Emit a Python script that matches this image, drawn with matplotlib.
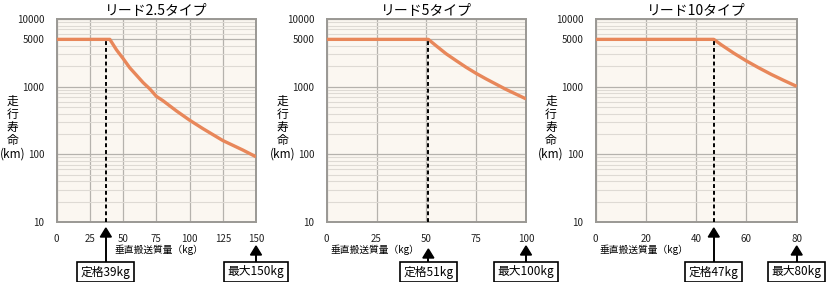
import matplotlib
matplotlib.use("Agg")
import matplotlib.pyplot as plt
from matplotlib.ticker import FixedLocator, LogLocator, NullFormatter

plt.rcParams['font.family'] = ['Noto Sans CJK JP', 'DejaVu Sans']

# --- data ---
titles = ["リード2.5タイプ", "リード5タイプ", "リード10タイプ"]
x_max = [150, 100, 80]
x_ticks = [[0, 25, 50, 75, 100, 125, 150],
           [0, 25, 50, 75, 100],
           [0, 20, 40, 60, 80]]

load_25 = [0, 40, 45, 50, 55, 60, 65, 70, 75, 80, 90, 100, 110, 125, 140, 150]
life_25 = [5000, 5000, 3500, 2600, 1900, 1480, 1150, 930, 720, 620, 440, 320, 240, 160, 116, 92]
load_5 = [0, 51, 55, 60, 65, 70, 75, 80, 90, 100]
life_5 = [5000, 5000, 4000, 3050, 2420, 1930, 1570, 1300, 910, 660]
load_10 = [0, 47, 50, 55, 60, 65, 70, 75, 80]
life_10 = [5000, 5000, 4150, 3120, 2400, 1890, 1510, 1230, 1010]

rated_x = [37, 51, 47]          # dashed line / arrow position
rated_labels = ["定格39kg", "定格51kg", "定格47kg"]
max_labels = ["最大150kg", "最大100kg", "最大80kg"]

y_ticks = [10, 100, 1000, 5000, 10000]
y_ticklabels = ["10", "100", "1000", "5000", "10000"]

loads = [load_25, load_5, load_10]
lives = [life_25, life_5, life_10]

# --- layout ---
W, H = 831, 282
fig = plt.figure(figsize=(W / 100, H / 100), dpi=100)
lefts = [56.7, 326.7, 595.7]
widths = [199.3, 199.3, 201.0]
top_px, bot_px = 19, 222
xlabel_pos = [0.513, 0.242, 0.24]
# arrow head tip (pixels from top): lower where a tick label sits above it
rated_tip = [228, 249, 228]
max_tip = [246, 246, 246]

line_color = "#E8875A"
bg_color = "#FBF7F1"


def arrow_box(xf, tip_px, label):
    box_top = 263
    fig.add_artist(plt.Line2D([xf, xf], [(H - box_top) / H, (H - tip_px - 8) / H],
                              color="black", lw=1.4, transform=fig.transFigure))
    fig.add_artist(plt.Polygon([[xf - 5.5 / W, (H - tip_px - 9) / H],
                                [xf + 5.5 / W, (H - tip_px - 9) / H],
                                [xf, (H - tip_px) / H]],
                               closed=True, color="black", transform=fig.transFigure))
    fig.text(xf, (H - 272) / H, label, ha="center", va="center", fontsize=8.5,
             bbox=dict(boxstyle="square,pad=0.3", fc="white", ec="black", lw=1.2))


for i in range(3):
    ax = fig.add_axes([lefts[i] / W, (H - bot_px) / H, widths[i] / W, (bot_px - top_px) / H])
    ax.set_facecolor(bg_color)
    ax.set_yscale("log")
    ax.set_xlim(0, x_max[i])
    ax.set_ylim(10, 10000)

    # grid
    ax.yaxis.set_minor_locator(LogLocator(base=10, subs=range(2, 10)))
    ax.yaxis.set_minor_formatter(NullFormatter())
    ax.grid(which="minor", axis="y", color="#dedad4", lw=0.8)
    ax.grid(which="major", axis="y", color="#b5b2ad", lw=0.9)
    ax.grid(which="major", axis="x", color="#b5b2ad", lw=0.9)
    ax.set_axisbelow(True)

    ax.yaxis.set_major_locator(FixedLocator(y_ticks))
    ax.set_yticklabels(y_ticklabels)
    ax.set_xticks(x_ticks[i])
    ax.tick_params(which="both", length=0, labelsize=7, colors="#222222")
    ax.tick_params(axis="y", pad=9)
    ax.tick_params(axis="x", pad=9)
    for s in ax.spines.values():
        s.set_color("#9a9894")
        s.set_linewidth(1.4)

    ax.plot(loads[i], lives[i], color=line_color, lw=2.4, solid_capstyle="butt", zorder=3)
    ax.plot([rated_x[i], rated_x[i]], [10, 5000], color="black", lw=1.4,
            ls=(0, (2, 1.5)), zorder=4)

    ax.set_title(titles[i], fontsize=10, pad=3)
    ax.text(xlabel_pos[i], -0.138, "垂直搬送質量（kg）", transform=ax.transAxes,
            ha="center", va="center", fontsize=7)
    ax.text(-0.222, 0.465, "走\n行\n寿\n命\n(km)", transform=ax.transAxes,
            ha="center", va="center", fontsize=8.5, linespacing=1.0)

    # arrows with boxes under the axis
    fig.canvas.draw_idle()
    xr = ax.transData.transform((rated_x[i], 10))[0] / W
    xm = ax.transData.transform((x_max[i], 10))[0] / W
    arrow_box(xr, rated_tip[i], rated_labels[i])
    arrow_box(xm, max_tip[i], max_labels[i])

fig.savefig("out.png", dpi=100)
